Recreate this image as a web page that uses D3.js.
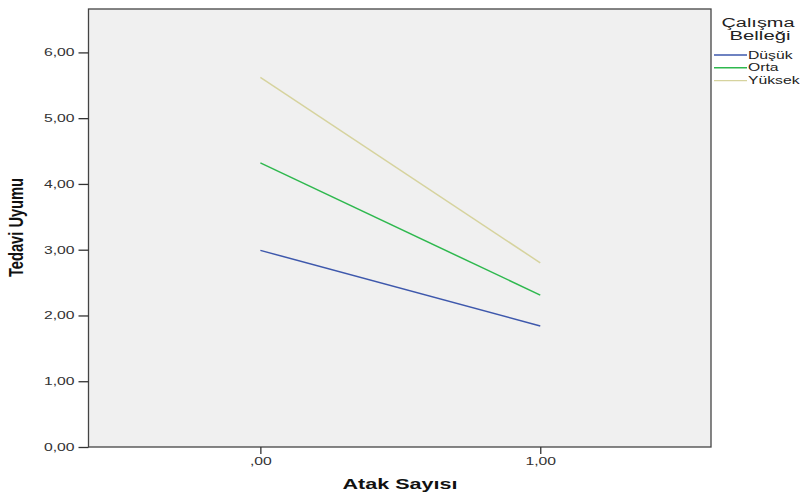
<!DOCTYPE html>
<html>
<head>
<meta charset="utf-8">
<script src="https://cdn.jsdelivr.net/npm/d3@7"></script>
<style>
  body { margin: 0; background: #fff; }
  svg { display: block; }
</style>
</head>
<body>
<svg id="chart"></svg>
<script>
// Data
const xValues = [0, 1];
const xTickLabels = [",00", "1,00"];
const yTicks = [0, 1, 2, 3, 4, 5, 6];
const seriesNames = ["Düşük", "Orta", "Yüksek"];
const dusuk = [2.99, 1.84];
const orta = [4.32, 2.31];
const yuksek = [5.62, 2.80];
const seriesColors = ["#3e58ac", "#2eb84e", "#d6d39e"];

const W = 803, H = 497;
const margin = { top: 9, right: 92, bottom: 50, left: 88.5 };
const width = W - margin.left - margin.right;
const height = H - margin.top - margin.bottom;
const FONT = "Liberation Sans, Arial, sans-serif";
const SX = 1.43; // the reference text is stretched horizontally

// stretch a text horizontally around its own x anchor
function stretch(sel) {
  sel.attr("transform", function() {
    const tx = +d3.select(this).attr("x") || 0;
    return `translate(${tx},0) scale(${SX},1) translate(${-tx},0)`;
  });
}

const svg = d3.select("#chart").attr("width", W).attr("height", H);
const g = svg.append("g").attr("transform", `translate(${margin.left},${margin.top})`);

const x = d3.scaleLinear().domain([-0.614, 1.61]).range([0, width]);
const y = d3.scaleLinear().domain([0, 6.66]).range([height, 0]);

// Plot background
g.append("rect")
  .attr("width", width).attr("height", height)
  .attr("fill", "#f0f0f0")
  .attr("stroke", "#444").attr("stroke-width", 1.3);

const fmt = d => d.toFixed(2).replace(".", ",");

// Y axis
const yAxis = g.append("g")
  .call(d3.axisLeft(y).tickValues(yTicks).tickSize(10).tickFormat(fmt));
yAxis.select(".domain").remove();
yAxis.selectAll("line").attr("stroke", "#333").attr("stroke-width", 1.3);
yAxis.selectAll("text")
  .attr("x", -14)
  .style("font-family", FONT).style("font-size", "11px").attr("fill", "#333")
  .call(stretch);

// X axis
const xAxis = g.append("g")
  .attr("transform", `translate(0,${height})`)
  .call(d3.axisBottom(x).tickValues(xValues).tickSize(7)
    .tickFormat((d, i) => xTickLabels[i]));
xAxis.select(".domain").remove();
xAxis.selectAll("line").attr("stroke", "#333").attr("stroke-width", 1.3);
xAxis.selectAll("text")
  .attr("y", 10)
  .style("font-family", FONT).style("font-size", "11px").attr("fill", "#333")
  .call(stretch);

// Axis titles
svg.append("text")
  .attr("transform", `translate(23,227.5) scale(${SX},1) rotate(-90)`)
  .attr("text-anchor", "middle")
  .attr("textLength", 99).attr("lengthAdjust", "spacingAndGlyphs")
  .style("font-family", FONT).style("font-weight", "bold")
  .style("font-size", "14.5px").attr("fill", "#111")
  .text("Tedavi Uyumu");

svg.append("text")
  .attr("x", 400).attr("y", 489)
  .attr("text-anchor", "middle")
  .attr("textLength", 115).attr("lengthAdjust", "spacingAndGlyphs")
  .style("font-family", FONT).style("font-weight", "bold")
  .style("font-size", "15px").attr("fill", "#111")
  .text("Atak Sayısı");

// Lines
const allSeries = [dusuk, orta, yuksek];
const line = d3.line().x((d, i) => x(xValues[i])).y(d => y(d));
g.selectAll(".series")
  .data(allSeries)
  .enter().append("path")
  .attr("class", "series")
  .attr("d", line)
  .attr("fill", "none")
  .attr("stroke", (d, i) => seriesColors[i])
  .attr("stroke-width", 1.5);

// Legend
const legend = svg.append("g");
legend.append("text")
  .attr("x", 758).attr("y", 27)
  .attr("text-anchor", "middle")
  .attr("textLength", 73).attr("lengthAdjust", "spacingAndGlyphs")
  .style("font-family", FONT).style("font-size", "12.5px").attr("fill", "#222")
  .text("Çalışma");
legend.append("text")
  .attr("x", 760).attr("y", 39.5)
  .attr("text-anchor", "middle")
  .attr("textLength", 61).attr("lengthAdjust", "spacingAndGlyphs")
  .style("font-family", FONT).style("font-size", "12.5px").attr("fill", "#222")
  .text("Belleği");

const items = legend.selectAll(".li")
  .data(seriesNames)
  .enter().append("g")
  .attr("transform", (d, i) => `translate(714,${55 + i * 12.8})`);
items.append("line")
  .attr("x1", 0).attr("x2", 33)
  .attr("stroke", (d, i) => seriesColors[i]).attr("stroke-width", 1.4);
items.append("text")
  .attr("x", 34).attr("y", 3.5)
  .style("font-family", FONT).style("font-size", "11px").attr("fill", "#222")
  .text(d => d)
  .call(stretch);
</script>
</body>
</html>
